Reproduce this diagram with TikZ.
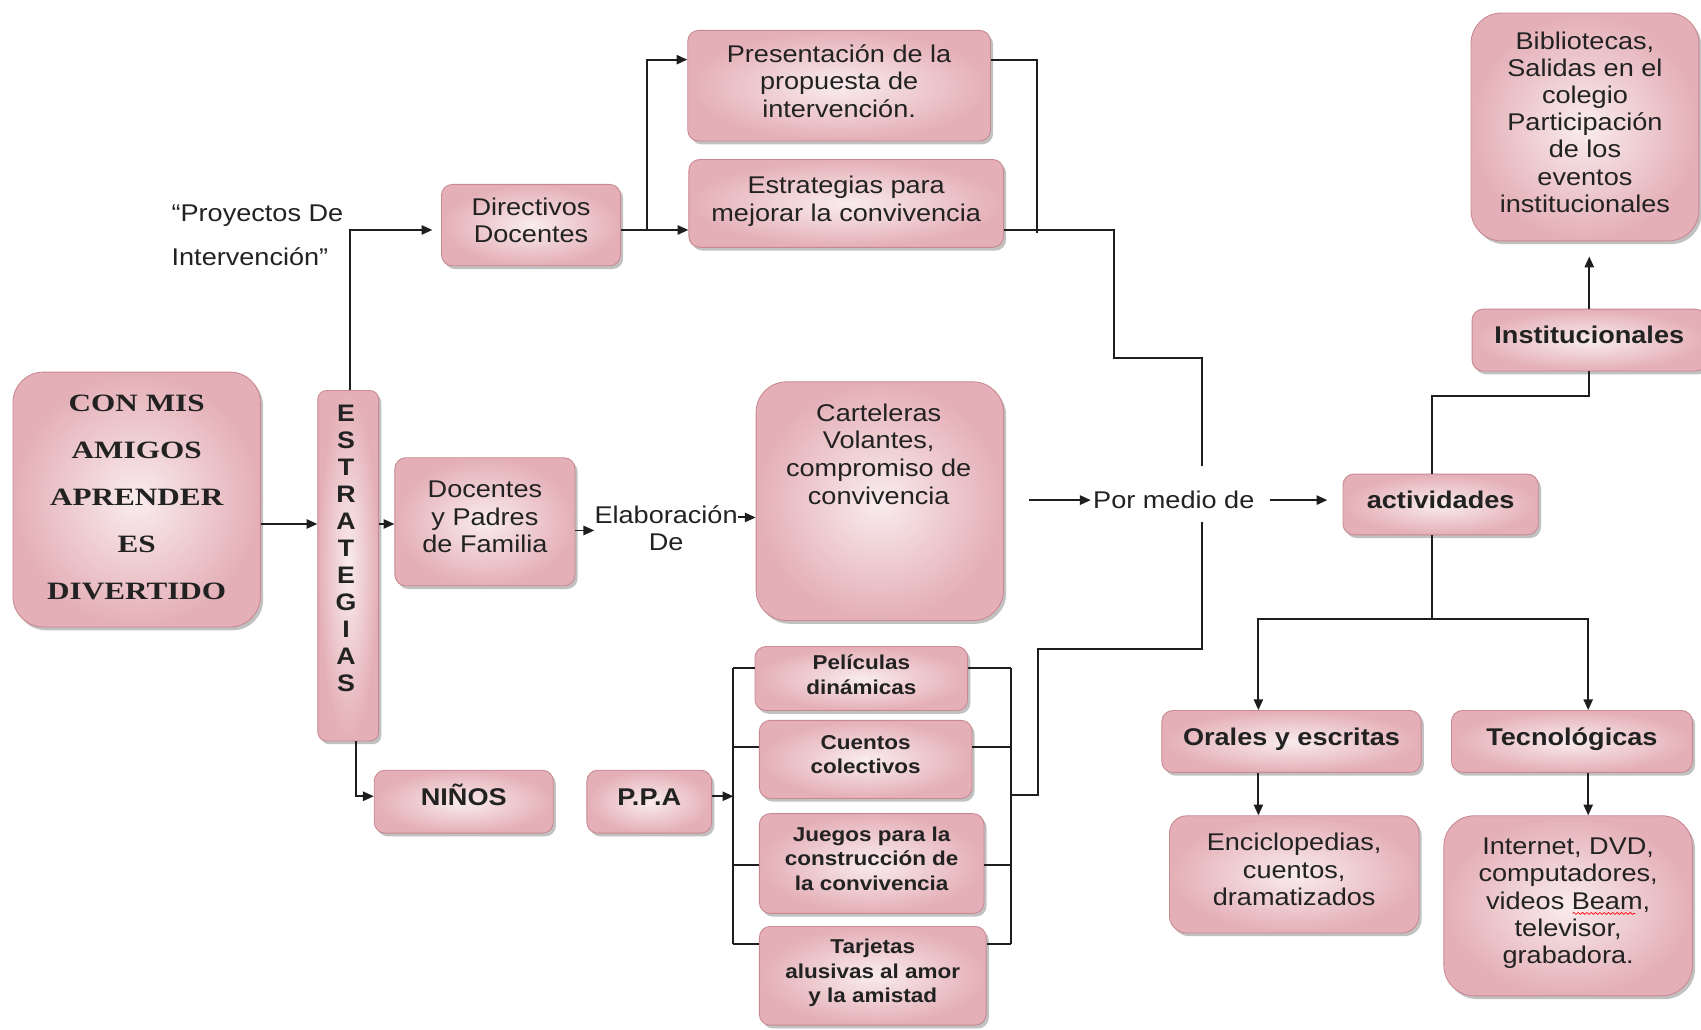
\documentclass[tikz,border=0pt]{standalone}
\usepackage{fontspec}
\usetikzlibrary{arrows.meta,shadows,decorations.pathmorphing}
\newfontfamily\sansw[FakeStretch=1.12]{Liberation Sans}
\newfontfamily\serifw[FakeStretch=1.25]{Liberation Serif}
\definecolor{pinkin}{HTML}{F9ECEE}
\definecolor{pinkout}{HTML}{E4AFB6}
\definecolor{pinkedge}{HTML}{C98891}
\definecolor{ink}{HTML}{1E1E1E}
\definecolor{txt}{HTML}{222222}
\begin{document}
\begin{tikzpicture}[x=1pt,y=-1pt,
  pbox/.style={draw=pinkedge, line width=0.8pt, rounded corners=#1, inner color=pinkin, outer color=pinkout,
     drop shadow={shadow xshift=2.5pt, shadow yshift=-3pt, opacity=0.4, fill=black!60},
     inner sep=0pt, align=center, text=txt, text depth=9pt},
  pbox/.default=10pt,
  ntext/.style={font=\sansw\fontsize{22.3}{25.5}\selectfont},
  btext/.style={font=\sansw\bfseries\fontsize{22.3}{25}\selectfont},
  sbtext/.style={font=\sansw\bfseries\fontsize{18.5}{22.8}\selectfont},
  plain/.style={inner sep=0pt, align=center, text=txt},
  ln/.style={draw=ink, line width=1.8pt},
  arr/.style={ln, -{Triangle[length=10pt,width=8.5pt]}}
]
\useasboundingbox (0,0) rectangle (1568,949);
\fill[white] (0,0) rectangle (1568,949);

% boxes
\node[pbox=28pt, minimum width=228pt, minimum height=235pt, text depth=4pt,
      font=\serifw\bfseries\fontsize{23}{43.3}\selectfont] (main) at (126,460.5)
      {CON MIS\\AMIGOS\\APRENDER\\ES\\DIVERTIDO};
\node[pbox=8pt, minimum width=56pt, minimum height=323pt] (estr) at (321,521.5) {};
\node[plain, font=\sansw\bfseries\fontsize{22}{24.9}\selectfont] (estrt) at (319,505.5)
      {E\\S\\T\\R\\A\\T\\E\\G\\I\\A\\S};
\node[pbox, minimum width=165pt, minimum height=75pt, ntext] (dir) at (489.5,207.5) {Directivos\\Docentes};
\node[pbox, minimum width=279pt, minimum height=102pt, ntext] (pres) at (773.5,79) {Presentación de la\\propuesta de\\intervención.};
\node[pbox, minimum width=290pt, minimum height=81pt, ntext] (estp) at (780,187.5) {Estrategias para\\mejorar la convivencia};
\node[pbox, minimum width=166pt, minimum height=118pt, ntext] (docp) at (447,481) {Docentes\\y Padres\\de Familia};
\node[plain, ntext] (elab) at (614,487) {Elaboración\\De};
\node[pbox=28pt, minimum width=228pt, minimum height=220pt] (cart) at (811,462) {};
\node[plain, ntext] (cartt) at (810,418.5) {Carteleras\\Volantes,\\compromiso de\\convivencia};
\node[ntext, inner sep=2pt, text=txt] (pm) at (1082,461) {Por medio de};
\node[pbox, minimum width=180pt, minimum height=56pt, btext] (act) at (1328,465) {actividades};
\node[pbox, minimum width=216pt, minimum height=57pt, btext] (inst) at (1465,313.5) {Institucionales};
\node[pbox=28pt, minimum width=210pt, minimum height=210pt, font=\sansw\fontsize{22.3}{25}\selectfont] (bib) at (1461,117)
      {Bibliotecas,\\Salidas en el\\colegio\\Participación\\de los\\eventos\\institucionales};
\node[pbox, minimum width=239pt, minimum height=57pt, btext] (oral) at (1190.5,683.5) {Orales y escritas};
\node[pbox, minimum width=222pt, minimum height=57pt, btext] (tec) at (1449,683.5) {Tecnológicas};
\node[pbox=16pt, minimum width=230pt, minimum height=108pt, ntext] (enc) at (1193,806) {Enciclopedias,\\cuentos,\\dramatizados};
\node[pbox=28pt, minimum width=229pt, minimum height=166pt, font=\sansw\fontsize{22.3}{25.2}\selectfont] (int) at (1445.5,835)
      {Internet, DVD,\\computadores,\\videos Beam,\\televisor,\\grabadora.};
\node[pbox, minimum width=165pt, minimum height=58pt, btext, text height=16pt] (ninos) at (427.5,739) {NIÑOS};
\node[pbox, minimum width=115pt, minimum height=58pt, btext] (ppa) at (598.5,739) {P.P.A};
\node[pbox, minimum width=196pt, minimum height=59pt, sbtext, text depth=7pt] (pel) at (794,625.5) {Películas\\dinámicas};
\node[pbox, minimum width=196pt, minimum height=72pt, sbtext] (cue) at (798,700) {Cuentos\\colectivos};
\node[pbox, minimum width=207pt, minimum height=92pt, sbtext] (jue) at (803.5,796) {Juegos para la\\construcción de\\la convivencia};
\node[pbox, minimum width=209pt, minimum height=91pt, sbtext] (tar) at (804.5,899.5) {Tarjetas\\alusivas al amor\\y la amistad};
\node[inner sep=0pt, align=left, anchor=west, text=txt, font=\sansw\fontsize{22.3}{40}\selectfont] (proy) at (158,217)
      {“Proyectos De\\Intervención”};

% spell-check squiggle under Beam
\draw[red, line width=0.6pt, decorate, decoration={snake, segment length=4pt, amplitude=0.9pt}]
  ([xshift=4pt,yshift=-7pt]int.center) -- ([xshift=62pt,yshift=-7pt]int.center);

% coordinates
\coordinate (w1) at (1027,330);
\coordinate (w2) at (956,215);
\coordinate (pmt) at (1108,430);
\coordinate (pmb) at (1108,481);
\coordinate (w3) at (957,598);
\coordinate (brj) at (932,733);

% connectors
\draw[arr] (main.east |- 0,483) -- (estr.west |- 0,483);
\draw[arr] (estr.east |- 0,483) -- (docp.west |- 0,483);
\draw[arr, shorten >=8pt] ([xshift=2pt]estr.north) |- ([yshift=-4.5pt]dir.west);
\draw[arr] ([xshift=7pt]estr.south) |- (ninos.west |- 0,734);
\draw[ln] (dir.east |- 0,212) -- (596,212);
\draw[arr] (596,212) |- ([yshift=24pt]pres.west);
\draw[arr] (596,212) -- (estp.west |- 0,212);
\draw[ln] ([yshift=24pt]pres.east) -| (w2);
\draw[ln] (estp.east |- 0,212) -| (w1) -| (pmt);
\draw[ln] (pmb) |- (w3) |- (brj);
\draw[arr] (docp.east |- 0,489) -- (elab.west |- 0,489);
\draw[arr] (elab.east |- 0,477) -- (cart.west |- 0,477);
\draw[arr] ([xshift=23pt]cart.east |- pm.west) -- (pm.west);
\draw[arr, shorten <=12pt, shorten >=14pt] (pm.east) -- (act.west |- pm.east);
\draw[ln] ([xshift=-8pt]act.north) -- ++(0,-72) -| (inst.south);
\draw[arr, shorten >=14pt] (inst.north) -- (inst.north |- bib.south);
\draw[ln] ([xshift=-8pt]act.south) -- ++(0,77) coordinate (sp);
\draw[arr] (sp) -| ([xshift=-30.5pt]oral.north);
\draw[arr] (sp) -| ([xshift=15pt]tec.north);
\draw[arr] ([xshift=-30.5pt]oral.south) -- ([xshift=-30.5pt]oral.south |- enc.north);
\draw[arr] ([xshift=15pt]tec.south) -- ([xshift=15pt]tec.south |- int.north);
\draw[arr] (ppa.east |- 0,734) -- (676,734);
\foreach \n/\yy in {pel/616, cue/689, jue/797, tar/870} {
  \draw[ln] (\n.west |- 0,\yy) -- (676,\yy);
  \draw[ln] (\n.east |- 0,\yy) -- (932,\yy);
}
\draw[ln] (676,616) -- (676,870);
\draw[ln] (932,616) -- (932,870);
\end{tikzpicture}
\end{document}
